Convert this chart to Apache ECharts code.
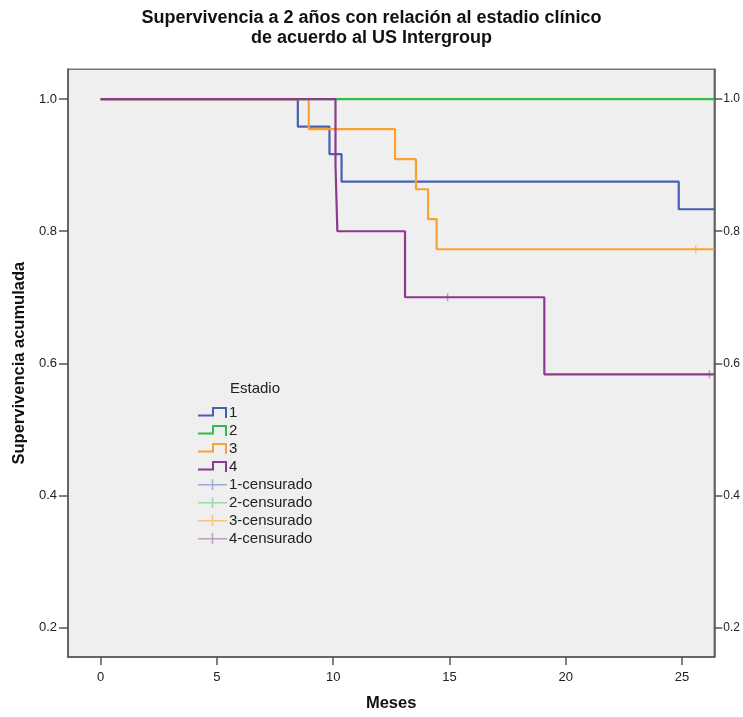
<!DOCTYPE html>
<html>
<head>
<meta charset="UTF-8">
<title>Supervivencia a 2 años</title>
<script src="https://cdn.jsdelivr.net/npm/echarts@6/dist/echarts.min.js"></script>
<style>
  html, body { margin: 0; padding: 0; background: #fff; }
  #main { width: 743px; height: 717px; }
</style>
</head>
<body>
<div id="main"></div>
<script type="text/javascript">
    // tiempos (meses) y supervivencia acumulada de cada estadio
    var est1Meses = [0, 8.48, 9.84, 10.36, 24.86, 26.39];
    var est1Surv  = [1.0, 0.9583, 0.9167, 0.875, 0.8333, 0.8333];
    var est2Meses = [0, 26.39];
    var est2Surv  = [1.0, 1.0];
    var est3Meses = [0, 8.95, 12.66, 13.56, 14.08, 14.45, 26.39];
    var est3Surv  = [1.0, 0.9545, 0.9091, 0.8636, 0.8182, 0.7727, 0.7727];
    var est4Meses = [0, 10.1, 10.18, 13.09, 19.08, 26.39];
    var est4Surv  = [1.0, 0.9, 0.8, 0.7, 0.5833, 0.5833];

    // casos censurados
    var cens3Meses = [25.59];
    var cens3Surv  = [0.7727];
    var cens4Meses = [14.92, 26.18];
    var cens4Surv  = [0.7, 0.5833];

    var xTicks = [0, 5, 10, 15, 20, 25];
    var yTicks = [0.2, 0.4, 0.6, 0.8, 1.0];

    function pares(xs, ys) {
        var out = [];
        for (var i = 0; i < xs.length; i++) out.push([xs[i], ys[i]]);
        return out;
    }

    var colores = ['#4560b5', '#35ba4a', '#fba131', '#8c3a8e'];
    var coloresCens = ['rgba(69,96,181,0.6)', 'rgba(53,186,74,0.55)', 'rgba(251,161,49,0.7)', 'rgba(140,58,142,0.6)'];

    // iconos de la leyenda
    var iconoPaso = 'path://M0,7.5L16,7.5L16,9.5L0,9.5Z M14,0L16,0L16,9.5L14,9.5Z M14,0L29,0L29,2L14,2Z M27,0L29,0L29,11L27,11Z';
    var iconoCens = 'path://M0,5L29,5L29,6.5L0,6.5Z M13.8,0L15.2,0L15.2,11L13.8,11Z';

    var myChart = echarts.init(document.getElementById('main'));

    function lineaEstadio(nombre, xs, ys, i) {
        return {
            name: nombre,
            type: 'line',
            step: 'end',
            showSymbol: false,
            symbol: 'none',
            color: colores[i],
            lineStyle: { width: 2.2, color: colores[i] },
            data: pares(xs, ys)
        };
    }
    function censurados(nombre, xs, ys, i) {
        return {
            name: nombre,
            type: 'scatter',
            symbol: 'rect',
            symbolSize: [1.5, 8],
            color: coloresCens[i],
            itemStyle: { color: coloresCens[i] },
            z: 3,
            data: pares(xs, ys)
        };
    }

    var option = {
        animation: false,
        title: [
            {
                text: 'Supervivencia a 2 años con relación al estadio clínico\nde acuerdo al US Intergroup',
                left: 'center',
                top: 3,
                textStyle: {
                    fontFamily: 'Liberation Sans',
                    fontSize: 18,
                    fontWeight: 'bold',
                    color: '#111',
                    lineHeight: 20
                }
            },
            {
                text: 'Estadio',
                left: 225,
                top: 376,
                textStyle: {
                    fontFamily: 'Liberation Sans',
                    fontSize: 15,
                    fontWeight: 'normal',
                    color: '#222'
                }
            }
        ],
        legend: {
            orient: 'vertical',
            left: 193,
            top: 400,
            itemWidth: 29,
            itemHeight: 11,
            itemGap: 3,
            selectedMode: false,
            itemStyle: { borderWidth: 0 },
            textStyle: {
                fontFamily: 'Liberation Sans',
                fontSize: 15,
                color: '#222',
                lineHeight: 15,
                padding: [0, 0, 0, -3]
            },
            data: [
                { name: '1', icon: iconoPaso },
                { name: '2', icon: iconoPaso },
                { name: '3', icon: iconoPaso },
                { name: '4', icon: iconoPaso },
                { name: '1-censurado', icon: iconoCens },
                { name: '2-censurado', icon: iconoCens },
                { name: '3-censurado', icon: iconoCens },
                { name: '4-censurado', icon: iconoCens }
            ]
        },
        grid: {
            left: 68,
            right: 27.3,
            top: 69.3,
            bottom: 57,
            show: true,
            backgroundColor: '#efefef',
            borderColor: '#777',
            borderWidth: 1.5
        },
        xAxis: {
            type: 'value',
            min: -1.403,
            max: 26.39,
            name: 'Meses',
            nameLocation: 'middle',
            nameGap: 38,
            nameTextStyle: { fontFamily: 'Liberation Sans', fontSize: 16.5, fontWeight: 'bold', color: '#111' },
            splitLine: { show: false },
            axisLine: { show: true, onZero: false, lineStyle: { color: '#555', width: 1.5 } },
            axisTick: { show: true, length: 8, customValues: xTicks, lineStyle: { color: '#555', width: 1.5 } },
            axisLabel: {
                customValues: xTicks,
                margin: 14,
                fontFamily: 'Liberation Sans',
                fontSize: 13,
                color: '#222'
            }
        },
        yAxis: [
            {
                type: 'value',
                min: 0.1553,
                max: 1.0452,
                name: 'Supervivencia acumulada',
                nameLocation: 'middle',
                nameGap: 40,
                nameTextStyle: { fontFamily: 'Liberation Sans', fontSize: 16.5, fontWeight: 'bold', color: '#111' },
                splitLine: { show: false },
                axisLine: { show: true, onZero: false, lineStyle: { color: '#555', width: 1.5 } },
                axisTick: { show: true, length: 9, customValues: yTicks, lineStyle: { color: '#555', width: 1.5 } },
                axisLabel: {
                    customValues: yTicks,
                    margin: 11,
                    fontFamily: 'Liberation Sans',
                    fontSize: 13,
                    color: '#222',
                    formatter: function (v) { return v.toFixed(1); }
                }
            },
            {
                type: 'value',
                position: 'right',
                min: 0.1553,
                max: 1.0452,
                splitLine: { show: false },
                axisLine: { show: true, onZero: false, lineStyle: { color: '#555', width: 1.5 } },
                axisTick: { show: true, length: 8, customValues: yTicks, lineStyle: { color: '#555', width: 1.5 } },
                axisLabel: {
                    customValues: yTicks,
                    margin: 9,
                    fontFamily: 'Liberation Sans',
                    fontSize: 12,
                    color: '#222',
                    formatter: function (v) { return v.toFixed(1); }
                }
            }
        ],
        series: [
            lineaEstadio('1', est1Meses, est1Surv, 0),
            lineaEstadio('2', est2Meses, est2Surv, 1),
            lineaEstadio('3', est3Meses, est3Surv, 2),
            lineaEstadio('4', est4Meses, est4Surv, 3),
            censurados('1-censurado', [], [], 0),
            censurados('2-censurado', [], [], 1),
            censurados('3-censurado', cens3Meses, cens3Surv, 2),
            censurados('4-censurado', cens4Meses, cens4Surv, 3)
        ]
    };
    myChart.setOption(option);
</script>
</body>
</html>
